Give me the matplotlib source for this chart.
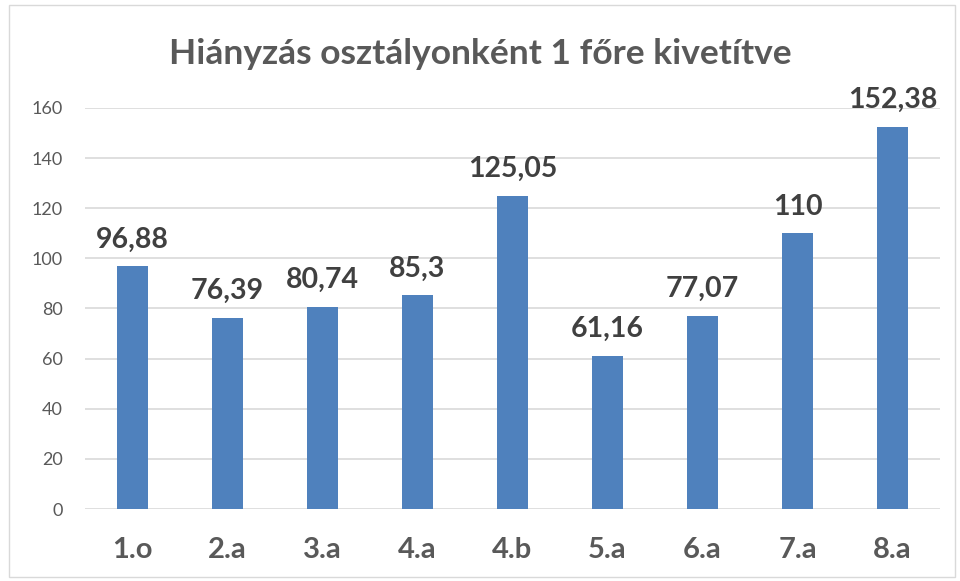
import matplotlib
matplotlib.use('Agg')
import matplotlib.pyplot as plt
from matplotlib.patches import Rectangle

classes = ['1.o', '2.a', '3.a', '4.a', '4.b', '5.a', '6.a', '7.a', '8.a']
values = [96.88, 76.39, 80.74, 85.3, 125.05, 61.16, 77.07, 110, 152.38]
labels = ['96,88', '76,39', '80,74', '85,3', '125,05', '61,16', '77,07', '110', '152,38']
yticks = [0, 20, 40, 60, 80, 100, 120, 140, 160]

plt.rcParams['font.family'] = ['Lato', 'DejaVu Sans']

fig = plt.figure(figsize=(9.6, 5.81), dpi=100)
ax = fig.add_axes([85/960, 1-509/581, (940-85)/960, (509-108)/581])

x = range(len(classes))
ax.bar(x, values, width=0.32, color='#4F81BD', zorder=3)

for i, v in enumerate(values):
    ax.text(i, v + 7.5, labels[i], ha='center', va='baseline', fontsize=20.5,
            fontweight='bold', color='#404040')

ax.set_xlim(-0.5, len(classes) - 0.5)
ax.set_ylim(0, 160)
ax.set_yticks(yticks)
ax.set_yticklabels([str(t) for t in yticks], fontsize=13, color='#595959')
ax.set_xticks(list(x))
ax.set_xticklabels(classes, fontsize=21, fontweight='bold', color='#595959')
ax.tick_params(axis='both', length=0)
ax.tick_params(axis='y', pad=16)
ax.tick_params(axis='x', pad=20)
ax.grid(axis='y', color='#D9D9D9', linewidth=1.2, zorder=0)
for s in ax.spines.values():
    s.set_visible(False)

fig.text(0.5, 1-54/581, 'Hiányzás osztályonként 1 főre kivetítve', ha='center', va='center',
         fontsize=25.5, fontweight='bold', color='#595959')

fig.patches.append(Rectangle((9/960, 4/581), 946/960, 572/581, transform=fig.transFigure,
                             fill=False, edgecolor='#D9D9D9', linewidth=1))

fig.savefig('out.png', dpi=100, facecolor='white')
